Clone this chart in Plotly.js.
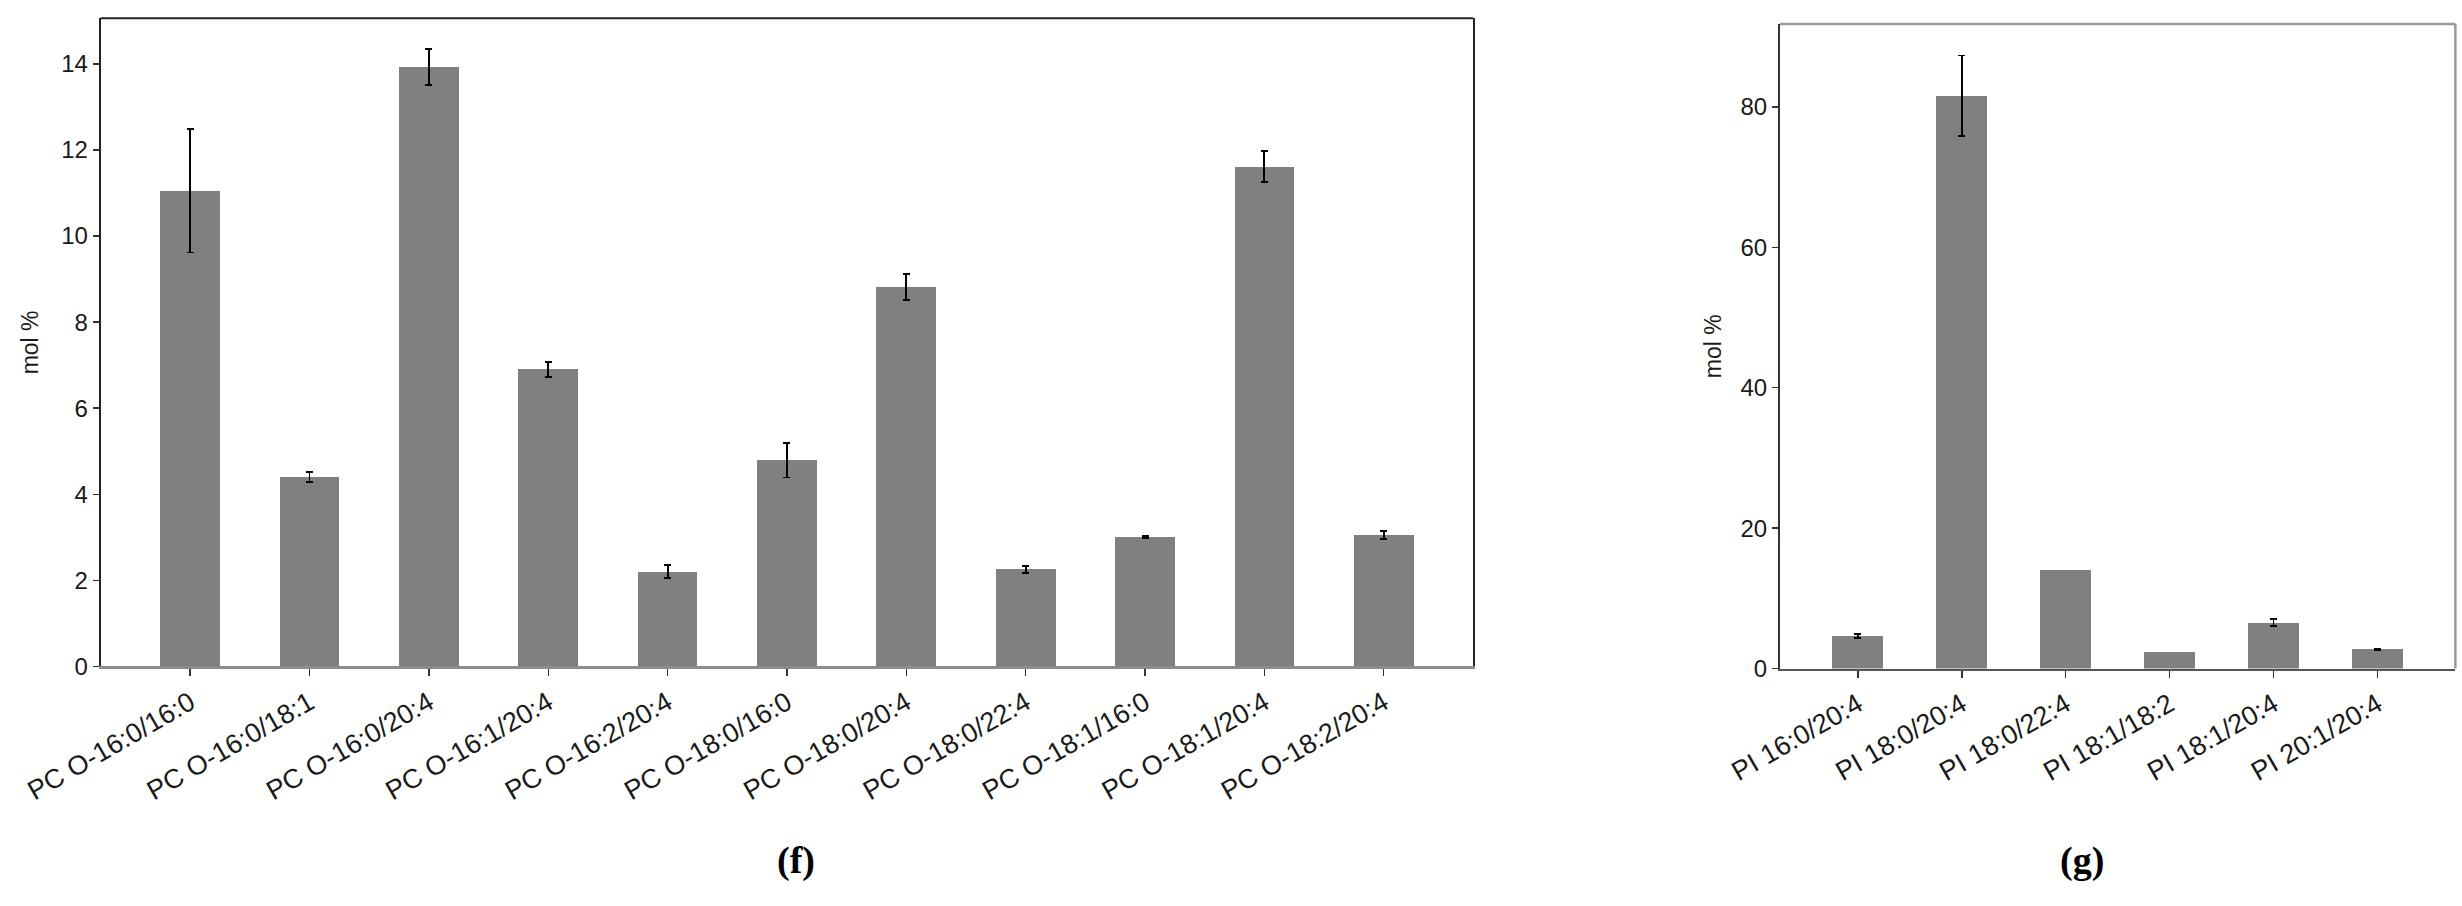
<!DOCTYPE html>
<html>
<head>
<meta charset="utf-8">
<script src="https://cdn.plot.ly/plotly-3.0.1.min.js"></script>
<style>
  html, body { margin: 0; padding: 0; background: #fff; }
  #chart { width: 2462px; height: 906px; }
</style>
</head>
<body>
<div id="chart"></div>
<script>
// panel (f): PC O- species
var pcLabels = ['PC O-16:0/16:0', 'PC O-16:0/18:1', 'PC O-16:0/20:4', 'PC O-16:1/20:4',
  'PC O-16:2/20:4', 'PC O-18:0/16:0', 'PC O-18:0/20:4', 'PC O-18:0/22:4',
  'PC O-18:1/16:0', 'PC O-18:1/20:4', 'PC O-18:2/20:4'];
var pcValues = [11.05, 4.40, 13.93, 6.90, 2.20, 4.79, 8.81, 2.26, 3.01, 11.61, 3.06];
var pcErrors = [1.43, 0.12, 0.42, 0.17, 0.15, 0.40, 0.30, 0.08, 0.02, 0.36, 0.09];

// panel (g): PI species (no visible error bar on two of them)
var piLabels = ['PI 16:0/20:4', 'PI 18:0/20:4', 'PI 18:0/22:4', 'PI 18:1/18:2',
  'PI 18:1/20:4', 'PI 20:1/20:4'];
var piValues = [4.6, 81.6, 13.98, 2.35, 6.55, 2.75];
var piErrors = [0.3, 5.7, NaN, NaN, 0.5, 0.1];

var barColor = '#808080';
var sans = 'Liberation Sans, Arial, sans-serif';
var yTickFont = {family: sans, size: 24, color: '#1a1a1a'};
var xTickFont = {family: sans, size: 27, color: '#1a1a1a'};

var traceF = {
  type: 'bar',
  x: pcLabels,
  y: pcValues,
  xaxis: 'x',
  yaxis: 'y',
  width: 0.5,
  marker: {color: barColor, line: {width: 0}},
  error_y: {type: 'data', array: pcErrors, visible: true, color: '#000', thickness: 1.8, width: 3.5}
};

var traceG = {
  type: 'bar',
  x: piLabels,
  y: piValues,
  xaxis: 'x2',
  yaxis: 'y2',
  width: 0.49,
  marker: {color: barColor, line: {width: 0}},
  error_y: {type: 'data', array: piErrors, visible: true, color: '#000', thickness: 1.8, width: 3.5}
};

var layout = {
  width: 2462,
  height: 906,
  margin: {l: 0, r: 0, t: 0, b: 0},
  paper_bgcolor: '#fff',
  plot_bgcolor: '#fff',
  showlegend: false,
  bargap: 0,

  xaxis: {
    domain: [0.0409, 0.5984],
    anchor: 'y',
    type: 'category',
    range: [-0.75, 10.75],
    showline: true, linecolor: '#8c8c8c', linewidth: 3,
    ticks: 'outside', ticklen: 7, tickwidth: 1.5, tickcolor: '#333',
    tickangle: -30,
    tickfont: xTickFont,
    showgrid: false, zeroline: false
  },
  yaxis: {
    domain: [0.2644, 0.9798],
    anchor: 'x',
    range: [0, 15.06],
    dtick: 2,
    showline: true, linecolor: '#222', linewidth: 2, mirror: true,
    ticks: 'outside', ticklen: 6, tickwidth: 1.5, tickcolor: '#333',
    tickfont: yTickFont,
    showgrid: false, zeroline: false,
    title: {text: 'mol %', font: {family: sans, size: 23, color: '#1a1a1a'}, standoff: 16}
  },

  xaxis2: {
    domain: [0.7230, 0.9973],
    anchor: 'y2',
    type: 'category',
    range: [-0.75, 5.75],
    showline: true, linecolor: '#555', linewidth: 2.5,
    ticks: 'outside', ticklen: 7, tickwidth: 1.5, tickcolor: '#333',
    tickangle: -30,
    tickfont: xTickFont,
    showgrid: false, zeroline: false
  },
  yaxis2: {
    domain: [0.2621, 0.9735],
    anchor: 'x2',
    range: [0, 91.8],
    dtick: 20,
    showline: true, linecolor: '#333', linewidth: 2,
    ticks: 'outside', ticklen: 6, tickwidth: 1.5, tickcolor: '#333',
    tickfont: yTickFont,
    showgrid: false, zeroline: false,
    title: {text: 'mol %', font: {family: sans, size: 23, color: '#1a1a1a'}, standoff: 12}
  },

  shapes: [
    // frame top of (f)
    {type: 'line', xref: 'x domain', yref: 'y domain', x0: 0, x1: 1, y0: 1, y1: 1,
      line: {color: '#222', width: 2}},
    // frame top and right of (g)
    {type: 'line', xref: 'x2 domain', yref: 'y2 domain', x0: 0, x1: 1, y0: 1, y1: 1,
      line: {color: '#9a9a9a', width: 2.5}},
    {type: 'line', xref: 'x2 domain', yref: 'y2 domain', x0: 1, x1: 1, y0: 0, y1: 1,
      line: {color: '#9a9a9a', width: 2.5}}
  ],

  annotations: [
    {text: '<b>(f)</b>', xref: 'paper', yref: 'paper', x: 0.3235, y: 0.05, showarrow: false,
      xanchor: 'center', yanchor: 'middle',
      font: {family: 'Liberation Serif, Times New Roman, serif', size: 38, color: '#000'}},
    {text: '<b>(g)</b>', xref: 'paper', yref: 'paper', x: 0.8455, y: 0.05, showarrow: false,
      xanchor: 'center', yanchor: 'middle',
      font: {family: 'Liberation Serif, Times New Roman, serif', size: 38, color: '#000'}}
  ]
};

Plotly.newPlot('chart', [traceF, traceG], layout, {displayModeBar: false, staticPlot: true});
</script>
</body>
</html>
